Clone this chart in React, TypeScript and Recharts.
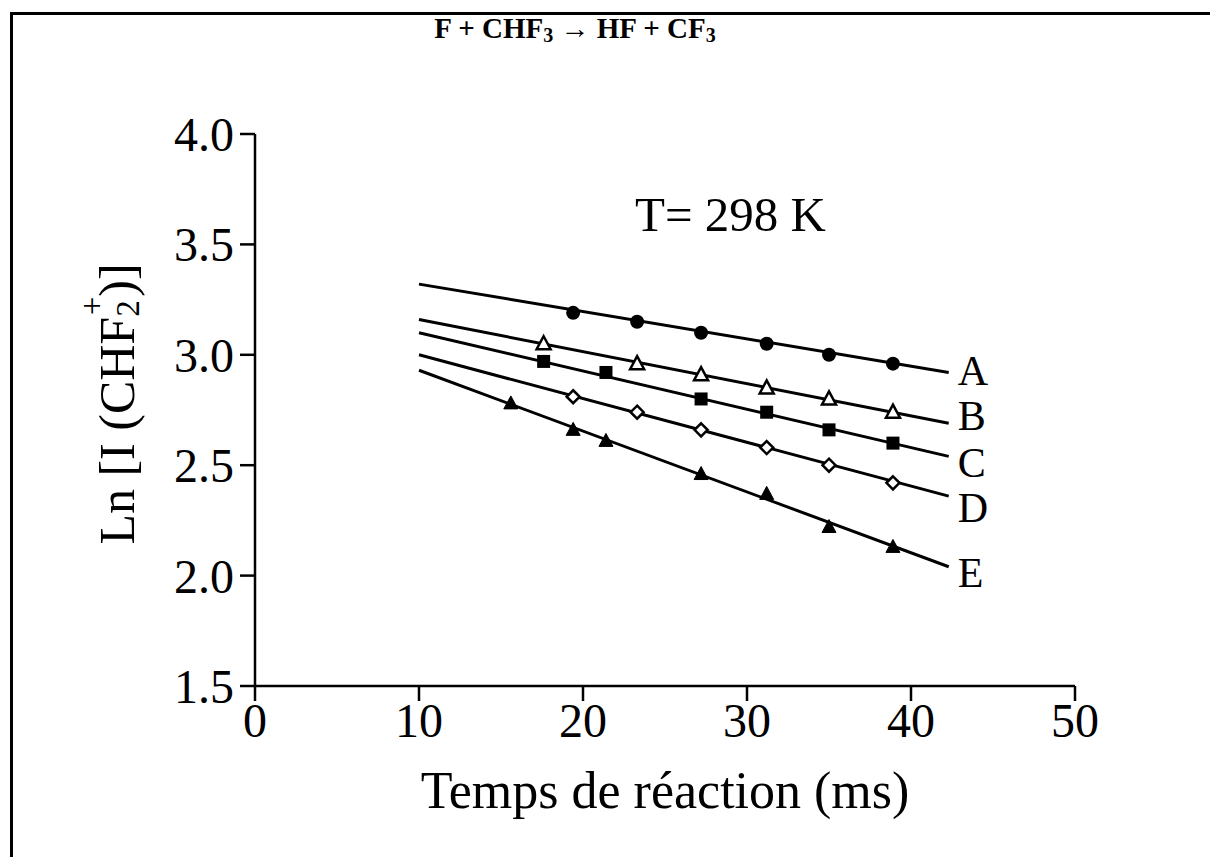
import { ComposedChart, Label, LabelList, Line, Scatter, XAxis, YAxis } from "recharts";

const xTicks = [0, 10, 20, 30, 40, 50];
const yTicks = [1.5, 2.0, 2.5, 3.0, 3.5, 4.0];

// measured points, reaction time (ms) vs ln I(CHF2+)
const timesA = [19.4, 23.3, 27.2, 31.2, 35.0, 38.9];
const lnA = [3.19, 3.15, 3.1, 3.05, 3.0, 2.96];
const timesB = [17.6, 23.3, 27.2, 31.2, 35.0, 38.9];
const lnB = [3.05, 2.96, 2.91, 2.85, 2.8, 2.74];
const timesC = [17.6, 21.4, 27.2, 31.2, 35.0, 38.9];
const lnC = [2.97, 2.92, 2.8, 2.74, 2.66, 2.6];
const timesD = [19.4, 23.3, 27.2, 31.2, 35.0, 38.9];
const lnD = [2.81, 2.74, 2.66, 2.58, 2.5, 2.42];
const timesE = [15.6, 19.4, 21.4, 27.2, 31.2, 35.0, 38.9];
const lnE = [2.78, 2.66, 2.61, 2.46, 2.37, 2.22, 2.13];

// fitted straight lines, start and end
const fitTimes = [10, 42.3];
const fitA = [3.32, 2.92];
const fitB = [3.16, 2.69];
const fitC = [3.1, 2.54];
const fitD = [3.0, 2.36];
const fitE = [2.93, 2.04];

const serif = "'Liberation Serif', 'Times New Roman', serif";

type Kind = "circle" | "openTri" | "square" | "openDiamond" | "tri";

// nudge: small vertical shift of the end letter so B and C don't collide
const series: { name: string; kind: Kind; times: number[]; ln: number[]; fit: number[]; nudge: number }[] = [
  { name: "A", kind: "circle", times: timesA, ln: lnA, fit: fitA, nudge: -2 },
  { name: "B", kind: "openTri", times: timesB, ln: lnB, fit: fitB, nudge: -8 },
  { name: "C", kind: "square", times: timesC, ln: lnC, fit: fitC, nudge: 6 },
  { name: "D", kind: "openDiamond", times: timesD, ln: lnD, fit: fitD, nudge: 11 },
  { name: "E", kind: "tri", times: timesE, ln: lnE, fit: fitE, nudge: 6 },
];

function marker(kind: Kind) {
  return (p: any) => {
    const { cx, cy } = p;
    if (cx == null || cy == null) return <g />;
    if (kind === "circle") return <circle cx={cx} cy={cy} r={7} fill="#000" />;
    if (kind === "square") return <rect x={cx - 6.5} y={cy - 6.5} width={13} height={13} fill="#000" />;
    if (kind === "openDiamond")
      return (
        <polygon
          points={`${cx},${cy - 6.5} ${cx + 6.5},${cy} ${cx},${cy + 6.5} ${cx - 6.5},${cy}`}
          fill="#fff"
          stroke="#000"
          strokeWidth={2.5}
        />
      );
    const open = kind === "openTri";
    return (
      <polygon
        points={`${cx},${cy - 7.5} ${cx + 7},${cy + 5.5} ${cx - 7},${cy + 5.5}`}
        fill={open ? "#fff" : "#000"}
        stroke="#000"
        strokeWidth={open ? 2.5 : 1}
      />
    );
  };
}

function endLabel(nudge: number) {
  return (p: any) => {
    const { x, y, value } = p;
    if (!value) return null;
    return (
      <text x={x + 9} y={y + nudge} dy="0.35em" fontFamily={serif} fontSize={42} fill="#000">
        {value}
      </text>
    );
  };
}

function yLabel(p: any) {
  const vb = p.viewBox;
  const cx = vb.x + 2;
  const cy = vb.y + vb.height / 2 - 6;
  return (
    <text
      x={cx}
      y={cy}
      transform={`rotate(-90, ${cx}, ${cy})`}
      textAnchor="middle"
      dominantBaseline="central"
      fontFamily={serif}
      fontSize={50}
      fill="#000"
    >
      Ln [I (CHF
      <tspan dy={11} fontSize={33}>2</tspan>
      <tspan dx={-15} dy={-36} fontSize={33}>+</tspan>
      <tspan dy={25}>)]</tspan>
    </text>
  );
}

const tickStyle = { fill: "#000", fontSize: 48, fontFamily: serif };
const axisStroke = { stroke: "#000", strokeWidth: 2.5 };

export default function App() {
  return (
    <div style={{ position: "relative", width: 1204, height: 851, background: "#fff" }}>
      <div
        style={{
          position: "absolute",
          left: 2,
          top: 4,
          width: 1200,
          height: 845,
          borderLeft: "3px solid #000",
          borderTop: "3px solid #000",
          boxSizing: "border-box",
        }}
      />
      <div
        style={{
          position: "absolute",
          left: 0,
          width: 1134,
          top: 0,
          textAlign: "center",
          fontFamily: serif,
          fontWeight: "bold",
          fontSize: 29,
          lineHeight: "40px",
        }}
      >
        F + CHF<sub style={{ fontSize: 20, verticalAlign: "-4px" }}>3</sub> → HF + CF
        <sub style={{ fontSize: 20, verticalAlign: "-4px" }}>3</sub>
      </div>
      <div
        style={{
          position: "absolute",
          left: 627,
          top: 177,
          fontFamily: serif,
          fontSize: 49,
          lineHeight: "60px",
          whiteSpace: "pre",
        }}
      >
        T= 298 K
      </div>
      <ComposedChart
        width={1204}
        height={851}
        margin={{ top: 126, right: 137, bottom: 113, left: 107 }}
        style={{ position: "absolute", left: 0, top: 0 }}
      >
        <XAxis
          type="number"
          dataKey="x"
          domain={[0, 50]}
          ticks={xTicks}
          allowDataOverflow
          height={60}
          tickSize={15}
          tickMargin={2}
          axisLine={axisStroke}
          tickLine={axisStroke}
          tick={tickStyle}
        >
          <Label
            value="Temps de réaction (ms)"
            position="bottom"
            offset={25}
            style={{ fill: "#000", fontSize: 52, fontFamily: serif }}
          />
        </XAxis>
        <YAxis
          type="number"
          domain={[1.5, 4]}
          ticks={yTicks}
          allowDataOverflow
          width={140}
          tickSize={15}
          tickMargin={6}
          tickFormatter={(v: number) => v.toFixed(1)}
          axisLine={axisStroke}
          tickLine={axisStroke}
          tick={tickStyle}
        >
          <Label content={yLabel} />
        </YAxis>
        {series.map((s) => (
          <Line
            key={"fit" + s.name}
            data={fitTimes.map((t, i) => ({ x: t, y: s.fit[i], tag: i === fitTimes.length - 1 ? s.name : "" }))}
            dataKey="y"
            type="linear"
            stroke="#000"
            strokeWidth={3}
            dot={false}
            activeDot={false}
            isAnimationActive={false}
          >
            <LabelList dataKey="tag" content={endLabel(s.nudge)} />
          </Line>
        ))}
        {series.map((s) => (
          <Scatter
            key={"pts" + s.name}
            data={s.times.map((t, i) => ({ x: t, y: s.ln[i] }))}
            dataKey="y"
            shape={marker(s.kind)}
            isAnimationActive={false}
          />
        ))}
      </ComposedChart>
    </div>
  );
}
